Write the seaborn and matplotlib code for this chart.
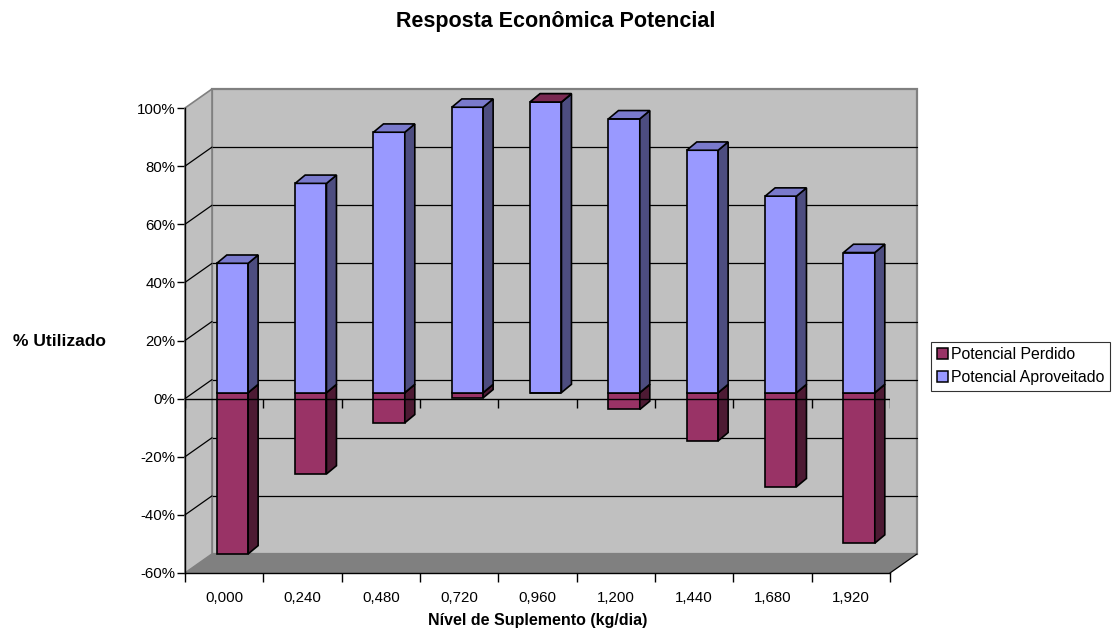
import numpy as np
import pandas as pd
import seaborn as sns
import matplotlib.pyplot as plt
import matplotlib.transforms as mtransforms
from matplotlib.patches import Polygon, Rectangle, Patch

# dados
niveis = ['0,000', '0,240', '0,480', '0,720', '0,960', '1,200', '1,440', '1,680', '1,920']
aproveitado = [44.5, 72.0, 89.6, 98.2, 100.0, 94.2, 83.4, 67.6, 48.2]
perdido = [-55.5, -28.0, -10.4, -1.8, 0.0, -5.8, -16.6, -32.4, -51.8]
series = ['Potencial Perdido', 'Potencial Aproveitado']
yticks = [-60, -40, -20, 0, 20, 40, 60, 80, 100]

# cores estilo Excel (frente, topo, lado)
cores = {
    'Potencial Perdido': ('#993366', '#7A2952', '#4D1A33'),
    'Potencial Aproveitado': ('#9999FF', '#7A7ACC', '#4D4D80'),
}

sns.set_theme(style='white')
plt.rcParams['font.family'] = ['Liberation Sans', 'DejaVu Sans']
plt.rcParams['text.color'] = 'black'
plt.rcParams['axes.labelcolor'] = 'black'
plt.rcParams['xtick.color'] = 'black'
plt.rcParams['ytick.color'] = 'black'

df = pd.DataFrame({
    'nivel': niveis * 2,
    'valor': perdido + aproveitado,
    'serie': [series[0]] * len(niveis) + [series[1]] * len(niveis),
})

W, H = 1112, 629
fig = plt.figure(figsize=(W / 100, H / 100), dpi=100)
L, R, T, B = 185, 890, 108, 573  # plano frontal em pixels
ax = fig.add_axes([L / W, 1 - B / H, (R - L) / W, (B - T) / H])
ax.patch.set_visible(False)

sns.barplot(data=df, x='nivel', y='valor', hue='serie', hue_order=series,
            palette=[cores[s][0] for s in series], dodge=False, width=0.4,
            saturation=1, errorbar=None, edgecolor='black', linewidth=1.2,
            legend=False, ax=ax, zorder=5)

ax.set_xlim(-0.5, 8.5)
ax.set_ylim(-60, 100)

# pixels -> unidades de dados
sx = (R - L) / 9
sy = (B - T) / 160
def d(px, py):
    return px / sx, py / sy

wx, wy = d(27, 19)   # profundidade das paredes
bx, by = d(10, 8.3)  # profundidade das barras

# parede do fundo, parede lateral e piso
ax.add_patch(Rectangle((-0.5 + wx, -60 + wy), 9, 160, facecolor='#C0C0C0',
                       edgecolor='#808080', lw=1.6, zorder=0, clip_on=False))
ax.add_patch(Polygon([(-0.5, -60), (-0.5, 100), (-0.5 + wx, 100 + wy), (-0.5 + wx, -60 + wy)],
                     closed=True, facecolor='#C0C0C0', edgecolor='#808080', lw=1.2,
                     zorder=1, clip_on=False))
ax.add_patch(Polygon([(-0.5, -60), (8.5, -60), (8.5 + wx, -60 + wy), (-0.5 + wx, -60 + wy)],
                     closed=True, facecolor='#808080', edgecolor='none', zorder=1, clip_on=False))
ax.plot([8.5, 8.5 + wx], [-60, -60 + wy], color='black', lw=0.9, zorder=2, clip_on=False)

for v in yticks[1:-1]:
    ax.plot([-0.5 + wx, 8.5 + wx], [v + wy, v + wy], color='black', lw=0.9, zorder=0.5, clip_on=False)
    ax.plot([-0.5, -0.5 + wx], [v, v + wy], color='black', lw=0.9, zorder=1.5, clip_on=False)

# barras em 3D: desloca a face frontal e acrescenta topo e lateral
tr = mtransforms.offset_copy(ax.transData, fig=fig, x=8.3, y=6, units='dots')
for k, (serie, cont) in enumerate(zip(series, ax.containers)):
    frente, topo, lado = cores[serie]
    for i, rect in enumerate(cont.patches):
        rect.set_transform(tr)
        rect.set_clip_on(False)
        x0, w = rect.get_x(), rect.get_width()
        y0, h = rect.get_y(), rect.get_height()
        bot, top = min(y0, y0 + h), max(y0, y0 + h)
        z = 5 + k
        if h == 0:
            # série zerada fica empilhada no topo da outra (como no Excel)
            top = bot = aproveitado[i]
            z = 8
        ax.add_patch(Polygon([(x0 + w, bot), (x0 + w + bx, bot + by), (x0 + w + bx, top + by), (x0 + w, top)],
                             closed=True, facecolor=lado, edgecolor='black', lw=1.2,
                             transform=tr, zorder=z, clip_on=False))
        ax.add_patch(Polygon([(x0, top), (x0 + w, top), (x0 + w + bx, top + by), (x0 + bx, top + by)],
                             closed=True, facecolor=topo, edgecolor='black', lw=1.2,
                             transform=tr, zorder=z, clip_on=False))
        rect.set_zorder(z)

# linha do 0% com marcas
tick_len = d(0, 9)[1]
ax.axhline(0, color='black', lw=1, zorder=10)
ax.vlines(np.arange(-0.5, 9, 1), -tick_len, 0, color='black', lw=1, zorder=10)

# eixos
for s in ['top', 'right']:
    ax.spines[s].set_visible(False)
for s in ['left', 'bottom']:
    ax.spines[s].set_color('black')
    ax.spines[s].set_linewidth(1)
    ax.spines[s].set_zorder(10)

ax.set_yticks(yticks)
ax.set_yticklabels([f'{v}%' for v in yticks])
ax.set_xticks(range(len(niveis)))
ax.set_xticklabels(niveis)
ax.set_xticks(np.arange(-0.5, 9, 1), minor=True)
ax.tick_params(axis='y', direction='out', length=6, width=1, pad=1, labelsize=10.8,
               colors='black', left=True)
ax.tick_params(axis='x', which='major', length=0, pad=13, labelsize=10.8, colors='black')
ax.tick_params(axis='x', which='minor', direction='out', length=6.5, width=1,
               colors='black', bottom=True)
ax.set_xlabel('')
ax.set_ylabel('')
ax.grid(False)

# textos
fig.text(556 / W, 1 - 22 / H, 'Resposta Econômica Potencial', ha='center', va='center',
         fontsize=15.5, weight='bold', color='black')
fig.text(59 / W, 1 - 342 / H, '% Utilizado', ha='center', va='center',
         fontsize=12.5, weight='bold', color='black')
fig.text(538 / W, 1 - 620 / H, 'Nível de Suplemento (kg/dia)', ha='center', va='center',
         fontsize=11.5, weight='bold', color='black')

handles = [Patch(facecolor=cores[s][0], edgecolor='black', lw=1.1) for s in series]
leg = fig.legend(handles, series, loc='center left', bbox_to_anchor=(931 / W, 1 - 366 / H),
                 frameon=True, fancybox=False, edgecolor='black', fontsize=11.4,
                 handlelength=0.7, handleheight=0.7, handletextpad=0.2, borderpad=0.35,
                 labelspacing=0.5, borderaxespad=0)
leg.get_frame().set_linewidth(0.8)
for t in leg.get_texts():
    t.set_color('black')

fig.savefig('out.png', dpi=100, facecolor='white')
